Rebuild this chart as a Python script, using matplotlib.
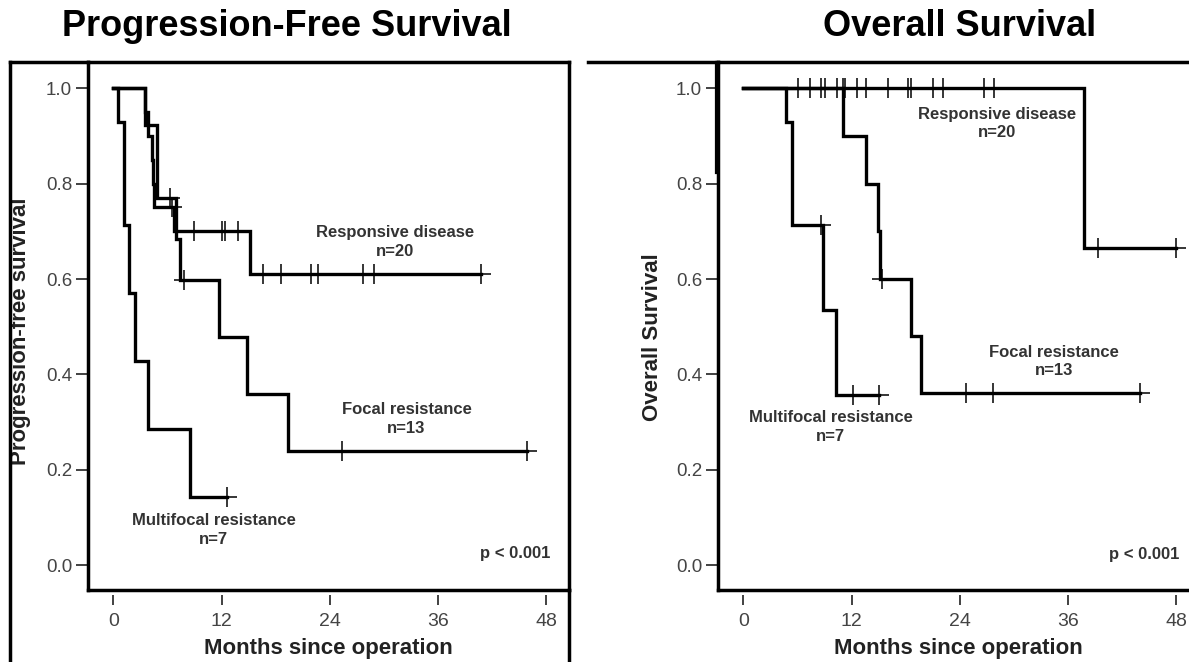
import numpy as np
import matplotlib
matplotlib.use('Agg')
import matplotlib.pyplot as plt
from matplotlib.lines import Line2D

plt.rcParams['font.family'] = ['Liberation Sans', 'DejaVu Sans']

W, H = 1189, 662

# ---------------- data ----------------
# Progression-free survival
pfs_resp_t = [0, 3.5, 3.8, 4.3, 4.4, 4.5, 6.7, 15.2]
pfs_resp_s = [1.0, 0.95, 0.90, 0.85, 0.80, 0.75, 0.70, 0.611]
pfs_resp_end = 40.7
pfs_resp_cens = [6.5, 8.9, 12.0, 12.4, 13.8, 16.6, 18.6, 21.9, 22.7, 27.7, 28.9, 40.7]

pfs_foc_t = [0, 3.5, 4.8, 4.9, 6.9, 7.4, 11.7, 14.8, 19.4]
pfs_foc_s = [1.0, 0.923, 0.846, 0.769, 0.684, 0.598, 0.479, 0.359, 0.239]
pfs_foc_end = 45.8
pfs_foc_cens = [6.3, 7.8, 25.4, 45.8]

pfs_mf_t = [0, 0.5, 1.2, 1.7, 2.4, 3.9, 8.5]
pfs_mf_s = [1.0, 0.929, 0.714, 0.571, 0.429, 0.286, 0.143]
pfs_mf_end = 12.6
pfs_mf_cens = [12.6]

# Overall survival
os_resp_t = [0, 37.8]
os_resp_s = [1.0, 0.664]
os_resp_end = 47.9
os_resp_cens = [6.1, 7.4, 8.6, 9.1, 10.4, 11.0, 11.3, 12.6, 13.6, 16.0, 18.2,
                18.6, 21.0, 22.1, 26.7, 27.8, 39.3, 47.9]

os_foc_t = [0, 11.0, 13.6, 14.9, 15.2, 18.6, 19.7]
os_foc_s = [1.0, 0.9, 0.8, 0.7, 0.6, 0.48, 0.36]
os_foc_end = 44.0
os_foc_cens = [15.4, 24.7, 27.7, 44.0]

os_mf_t = [0, 4.7, 5.4, 8.8, 10.3]
os_mf_s = [1.0, 0.929, 0.714, 0.536, 0.357]
os_mf_end = 15.0
os_mf_cens = [8.6, 12.2, 15.0]

x_ticks = [0, 12, 24, 36, 48]
y_ticks = [0.0, 0.2, 0.4, 0.6, 0.8, 1.0]
y_ticklabels = ["0.0", "0.2", "0.4", "0.6", "0.8", "1.0"]

titles = ["Progression-Free Survival", "Overall Survival"]
ylabels = ["Progression-free survival", "Overall Survival"]
xlabel = "Months since operation"
group_labels = ["Responsive disease\nn=20", "Focal resistance\nn=13", "Multifocal resistance\nn=7"]
p_text = "p < 0.001"

# ---------------- figure ----------------
fig = plt.figure(figsize=(W / 100, H / 100), dpi=100)
fig.patch.set_facecolor('white')


def fx(x):
    return x / W


def fy(y):
    return 1 - y / H


def figline(xs, ys, lw=2.5):
    fig.add_artist(Line2D([fx(v) for v in xs], [fy(v) for v in ys], color='black',
                          lw=lw, transform=fig.transFigure, solid_capstyle='projecting'))


ax_w = (569 - 88) / W
ax_b = fy(590)
ax_h = (590 - 62) / H
axL = fig.add_axes([fx(88), ax_b, ax_w, ax_h])
axR = fig.add_axes([fx(718), ax_b, ax_w, ax_h])


def surv_at(t, s, x):
    idx = np.searchsorted(np.asarray(t), np.asarray(x), side='right') - 1
    return np.asarray(s)[idx]


def km(ax, t, s, end, cens):
    ax.step(list(t) + [end], list(s) + [s[-1]], where='post', color='black', lw=2.4,
            solid_joinstyle='miter')
    ax.plot(cens, surv_at(t, s, cens), linestyle='none', marker='+', ms=15, mew=1.1,
            color='black')


def setup(ax, ylabel, ylab_pos):
    ax.set_xlim(-2.8, 50.5)
    ax.set_ylim(-0.052, 1.055)
    for sp in ['left', 'top', 'right']:
        ax.spines[sp].set_linewidth(2.5)
    ax.spines['bottom'].set_position(('outward', 3.6))
    ax.spines['bottom'].set_visible(False)
    ax.plot([0, 1], [0, 0], transform=ax.transAxes, color='black', lw=2.5, clip_on=False,
            solid_capstyle='projecting')
    ax.set_xticks(x_ticks)
    ax.set_xticklabels([str(v) for v in x_ticks])
    ax.set_yticks(y_ticks)
    ax.set_yticklabels(y_ticklabels)
    ax.tick_params(axis='x', direction='out', length=7.2, width=1.3, color='#333333',
                   pad=5.5, labelsize=14, labelcolor='#444444')
    ax.tick_params(axis='y', direction='out', length=9, width=1.3, color='#333333',
                   pad=2.5, labelsize=13.5, labelcolor='#444444')
    ax.set_xlabel(xlabel, fontsize=16, fontweight='bold', color='#222222')
    ax.xaxis.set_label_coords(0.5, -0.11)
    ax.xaxis.label.set_va('center')
    ax.set_ylabel(ylabel, fontsize=16, fontweight='bold', color='#222222')
    ax.yaxis.set_label_coords(*ylab_pos)
    ax.yaxis.label.set_va('center')


# Left panel: PFS
km(axL, pfs_resp_t, pfs_resp_s, pfs_resp_end, pfs_resp_cens)
km(axL, pfs_foc_t, pfs_foc_s, pfs_foc_end, pfs_foc_cens)
km(axL, pfs_mf_t, pfs_mf_s, pfs_mf_end, pfs_mf_cens)
setup(axL, ylabels[0], (-0.141, 0.49))

txt_kw = dict(ha='center', va='center', fontsize=12, fontweight='bold', color='#333333',
              linespacing=1.3)
axL.text(31.2, 0.677, group_labels[0], **txt_kw)
axL.text(32.5, 0.307, group_labels[1], **txt_kw)
axL.text(11.1, 0.074, group_labels[2], **txt_kw)
axL.text(44.5, 0.025, p_text, **txt_kw)

# Right panel: OS
km(axR, os_resp_t, os_resp_s, os_resp_end, os_resp_cens)
km(axR, os_foc_t, os_foc_s, os_foc_end, os_foc_cens)
km(axR, os_mf_t, os_mf_s, os_mf_end, os_mf_cens)
setup(axR, ylabels[1], (-0.137, 0.479))
axR.text(28.1, 0.926, group_labels[0], **txt_kw)
axR.text(34.4, 0.427, group_labels[1], **txt_kw)
axR.text(9.7, 0.290, group_labels[2], **txt_kw)
axR.text(44.4, 0.023, p_text, **txt_kw)

# panel frames
figline([10, 10], [62, 662])
figline([10, 88], [62, 62])
figline([569, 569], [590, 662])
figline([588, 718], [62, 62])
figline([715.5, 715.5], [62, 173], lw=1.6)

# titles
fig.text(fx(287), fy(26), titles[0], ha='center', va='center', fontsize=26,
         fontweight='bold', color='black')
fig.text(fx(960), fy(26), titles[1], ha='center', va='center', fontsize=26,
         fontweight='bold', color='black')

fig.savefig('out.png', dpi=100, facecolor='white')
